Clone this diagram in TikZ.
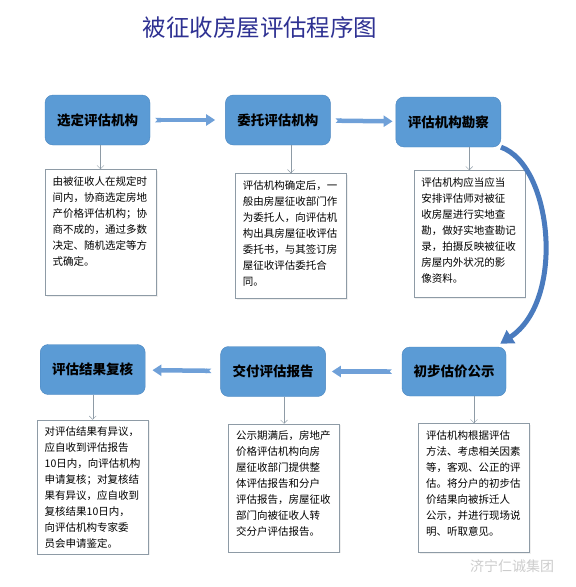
\documentclass[tikz,border=0pt]{standalone}
\usepackage{fontspec}
\setmainfont{Noto Sans CJK SC}
\usepackage{xcolor}
\usepackage{tikz}
\usetikzlibrary{arrows.meta, positioning, shadows}
\definecolor{stepblue}{HTML}{5B9BD5}
\definecolor{stepedge}{HTML}{4A85BF}
\definecolor{flowblue}{HTML}{6FA0D8}
\definecolor{loopblue}{HTML}{4A7BBE}
\definecolor{notegray}{HTML}{8E9BA6}
\definecolor{titlenavy}{HTML}{2E3192}
\newcommand{\notetext}[2]{\parbox[t][#1][t]{96pt}{#2}}

\begin{document}
\begin{tikzpicture}[x=1pt, y=-1pt, font=\fontsize{10.5}{16}\selectfont,
  >={Triangle[length=9pt, width=11pt]},
  stage/.style={draw=stepedge, fill=stepblue, rounded corners=8pt, minimum width=105pt,
                minimum height=50pt, font=\fontsize{13.5}{16}\selectfont\bfseries},
  note/.style={draw=notegray, fill=white, inner xsep=7.5pt, inner ysep=7pt,
               drop shadow={opacity=0.12, shadow xshift=1.5pt, shadow yshift=-1.5pt}},
  tick/.style={draw=notegray, -{Straight Barb[length=3.5pt]}},
  flow/.style={draw=flowblue, line width=4.5pt, {Triangle Cap[reversed]}->},
  loop/.style={draw=loopblue, line width=5pt, -{Triangle[length=13pt, width=15pt]}}]
  \useasboundingbox (0,0) rectangle (576,587);
  \node[text=titlenavy, font=\fontsize{23.5}{26}\selectfont] (title) at (260,28) {被征收房屋评估程序图};

  % top row
  \node[stage] (sel) at (97.5,120) {选定评估机构};
  \node[stage, right=75pt of sel] (entr) {委托评估机构};
  \node[stage, right=65pt of entr, yshift=-2pt] (surv) {评估机构勘察};
  % bottom row
  \node[stage, minimum width=104pt, minimum height=49pt] (pub) at (454,371.5) {初步估价公示};
  \node[stage, left=76pt of pub] (deliv) {交付评估报告};
  \node[stage, left=75pt of deliv, yshift=2pt] (review) {评估结果复核};

  % notes
  \node[note, below=24pt of sel, xshift=3pt] (t1) {\notetext{112pt}{由被征收人在规定时\\间内，协商选定房地\\产价格评估机构；协\\商不成的，通过多数\\决定、随机选定等方\\式确定。}};
  \node[note, below=28pt of entr, xshift=13pt] (t2) {\notetext{111pt}{评估机构确定后，一\\般由房屋征收部门作\\为委托人，向评估机\\构出具房屋征收评估\\委托书，与其签订房\\屋征收评估委托合\\同。}};
  \node[note, below=23pt of surv, xshift=21pt] (t3) {\notetext{113pt}{评估机构应当应当\\安排评估师对被征\\收房屋进行实地查\\勘，做好实地查勘记\\录，拍摄反映被征收\\房屋内外状况的影\\像资料。}};
  \node[note, below=25pt of review] (t4) {\notetext{120pt}{对评估结果有异议，\\应自收到评估报告\\10日内，向评估机构\\申请复核；对复核结\\果有异议，应自收到\\复核结果10日内，\\向评估机构专家委\\员会申请鉴定。}};
  \node[note, below=27pt of deliv, xshift=11pt] (t5) {\notetext{114pt}{公示期满后，房地产\\价格评估机构向房\\屋征收部门提供整\\体评估报告和分户\\评估报告，房屋征收\\部门向被征收人转\\交分户评估报告。}};
  \node[note, below=27pt of pub, xshift=20pt] (t6) {\notetext{115pt}{评估机构根据评估\\方法、考虑相关因素\\等，客观、公正的评\\估。将分户的初步估\\价结果向被拆迁人\\公示，并进行现场说\\明、听取意见。}};

  \node[text=gray!40, font=\fontsize{14}{16}\selectfont] (mark) at (512,566) {济宁仁诚集团};

  \draw[flow, shorten <=5pt, shorten >=10pt] (sel) -- (entr);
  \draw[flow, shorten <=5pt, shorten >=3pt] (entr) -- (surv);
  \draw[flow, shorten <=10pt, shorten >=6pt] (pub) -- (deliv);
  \draw[flow, shorten <=9pt, shorten >=7pt] (deliv) -- (review);
  \draw[loop] (surv.south east) .. controls (552,165) and (566,300) .. ([xshift=-6pt, yshift=3pt]pub.north east);

  \draw[tick] (t1 |- sel.south) -- (t1.north);
  \draw[tick] (t2 |- entr.south) -- (t2.north);
  \draw[tick] (t3 |- surv.south) -- (t3.north);
  \draw[tick] (t4 |- review.south) -- (t4.north);
  \draw[tick] (t5 |- deliv.south) -- (t5.north);
  \draw[tick] (t6 |- pub.south) -- (t6.north);
\end{tikzpicture}
\end{document}
